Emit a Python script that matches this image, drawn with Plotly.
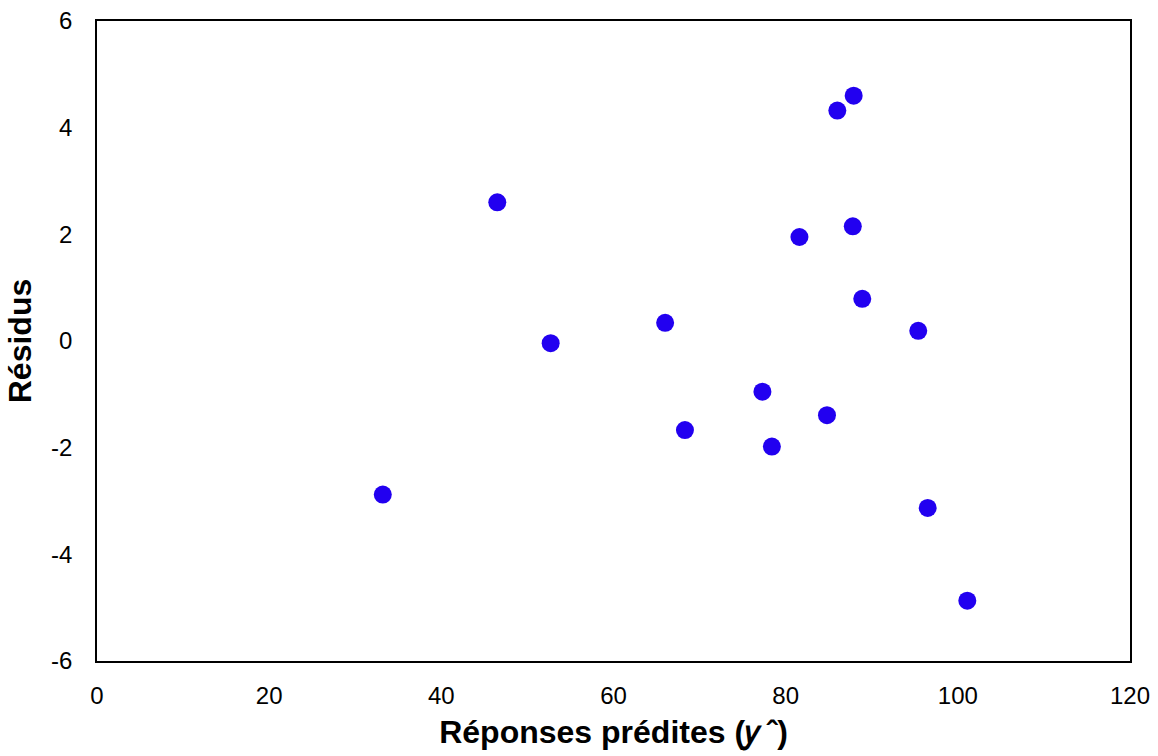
import plotly.graph_objects as go

# Predicted responses and residuals
predicted = [33.2, 46.5, 52.7, 66.0, 68.3, 77.3, 78.4, 81.6, 84.8, 86.0, 87.9, 87.8, 88.9, 95.4, 96.5, 101.1]
residuals = [-2.88, 2.60, -0.04, 0.34, -1.67, -0.95, -1.98, 1.95, -1.39, 4.32, 4.60, 2.15, 0.79, 0.19, -3.13, -4.87]

x_ticks = [0, 20, 40, 60, 80, 100, 120]
y_ticks = [-6, -4, -2, 0, 2, 4, 6]
y_tick_text = ["-6", "-4", "-2", "0", "2", "4", "6"]

fig = go.Figure(
    go.Scatter(
        x=predicted,
        y=residuals,
        mode="markers",
        marker=dict(size=18, color="#2200F0", line=dict(width=0)),
        showlegend=False,
    )
)

font_family = "Liberation Sans, Arial, sans-serif"

fig.update_layout(
    width=1158,
    height=756,
    margin=dict(l=97, r=28, t=21, b=95, autoexpand=False),
    paper_bgcolor="white",
    plot_bgcolor="white",
    font=dict(family=font_family, color="black", size=24),
    xaxis=dict(
        range=[0, 120],
        tickvals=x_ticks,
        showgrid=False,
        zeroline=False,
        showline=True,
        linecolor="black",
        linewidth=1.5,
        mirror=True,
        ticks="",
        ticklabelstandoff=12,
        tickfont=dict(size=24),
        automargin=False,
        title=dict(
            text="<b>Réponses prédites (𝑦\u2009ˆ)</b>",
            font=dict(size=32),
            standoff=13,
        ),
    ),
    yaxis=dict(
        range=[-6, 6],
        tickvals=y_ticks,
        ticktext=y_tick_text,
        showgrid=False,
        zeroline=False,
        showline=True,
        linecolor="black",
        linewidth=1.5,
        mirror=True,
        ticks="",
        ticklabelstandoff=18,
        tickfont=dict(size=24),
        automargin=False,
        title=dict(
            text="<b>Résidus</b>",
            font=dict(size=32),
            standoff=10,
        ),
    ),
)

fig.write_html("out.html")
